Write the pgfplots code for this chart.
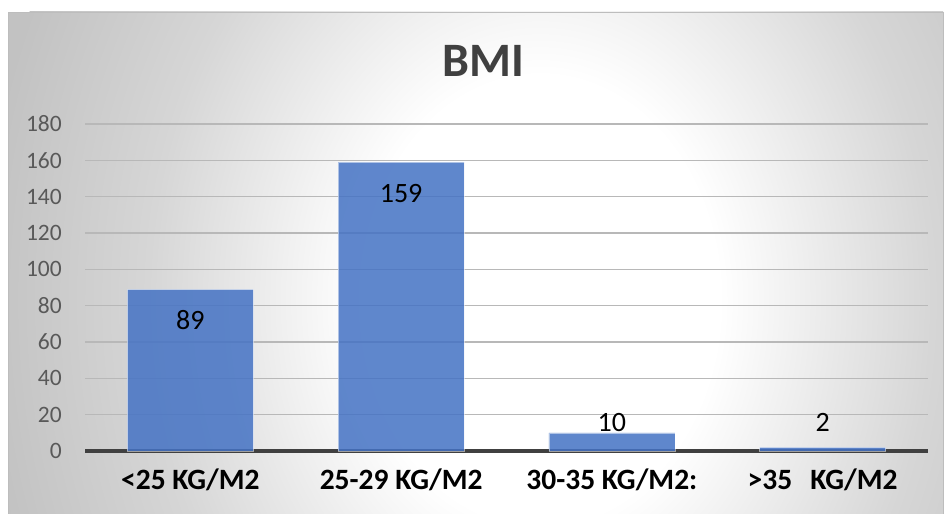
\documentclass[border=0pt]{standalone}
\usepackage{pgfplots}
\pgfplotsset{compat=1.18}
\usepackage{pgfplotstable}
\usepackage{fontspec}
\setmainfont{Carlito}

\definecolor{barblue}{HTML}{4472C4}
\definecolor{gridgray}{HTML}{B8B8B8}
\definecolor{axisdark}{HTML}{404040}
\definecolor{ticktext}{HTML}{595959}
\definecolor{titletext}{HTML}{404040}
\definecolor{bgedge}{HTML}{C2C2C2}
\definecolor{bgmid}{HTML}{D6D6D6}
\definecolor{framegray}{HTML}{BDBDBD}

% soft radial background of the chart area (path boundary sits at 25bp)
\pgfdeclareradialshading{chartbg}{\pgfpoint{0bp}{0bp}}{%
  color(0bp)=(white); color(8bp)=(white); color(17.5bp)=(bgmid);
  color(25bp)=(bgedge); color(50bp)=(bgedge)}

% category, count, height of the value label
\pgfplotstableread{
x  y    ly
0  89   72
1  159  142
2  10   15.7
3  2    15.7
}\bmidata

\begin{document}
\begin{tikzpicture}
\useasboundingbox (0pt,0pt) rectangle (948pt,514pt);

% chart area with background
\begin{scope}
  \clip (8pt,0pt) rectangle (943pt,502pt);
  \fill[bgedge] (8pt,0pt) rectangle (943pt,502pt);
  \shade[shading=chartbg] (540pt,214pt) ellipse (560pt and 700pt);
\end{scope}
\draw[framegray, line width=0.8pt] (8pt,0pt) -- (8pt,502pt) -- (943pt,502pt) -- (943pt,0pt);

% title
\node[anchor=base, inner sep=0pt, text=titletext,
      font=\bfseries\fontsize{48}{48}\selectfont] at (483pt,437pt) {BMI};

\begin{axis}[
  at={(85pt,63pt)}, anchor=south west,
  scale only axis, width=843pt, height=327pt,
  xmin=-0.5, xmax=3.5, ymin=0, ymax=180,
  axis line style={draw=none},
  ytick={20,40,...,180},
  extra y ticks={0},
  extra y tick style={grid style={axisdark, line width=4.2pt}},
  ymajorgrids,
  grid style={gridgray, line width=1.3pt},
  major tick length=0pt,
  /pgf/number format/assume math mode=true,
  yticklabel style={anchor=east, inner sep=0pt, xshift=-23pt,
    text=ticktext, font=\fontsize{23.5}{23.5}\selectfont},
  xtick={0,1,2,3},
  xticklabels={{<25 KG/M2},{25-29 KG/M2},{30-35 KG/M2:},{>35\hspace{18pt}KG/M2}},
  xticklabel style={anchor=base, inner sep=0pt, yshift=-38pt,
    text=black, font=\bfseries\fontsize{29.5}{29.5}\selectfont},
  clip=false,
]
\addplot[ybar, bar width=126pt, fill=barblue, fill opacity=0.85,
         draw=white, draw opacity=0.5, line width=0.6pt]
  table[x=x, y=y] {\bmidata};
\addplot[draw=none, mark=none, nodes near coords,
         point meta=\thisrow{y},
         every node near coord/.append style={anchor=center, inner sep=0pt,
           text=black, font=\fontsize{28}{28}\selectfont}]
  table[x=x, y=ly] {\bmidata};
\end{axis}
\end{tikzpicture}
\end{document}
